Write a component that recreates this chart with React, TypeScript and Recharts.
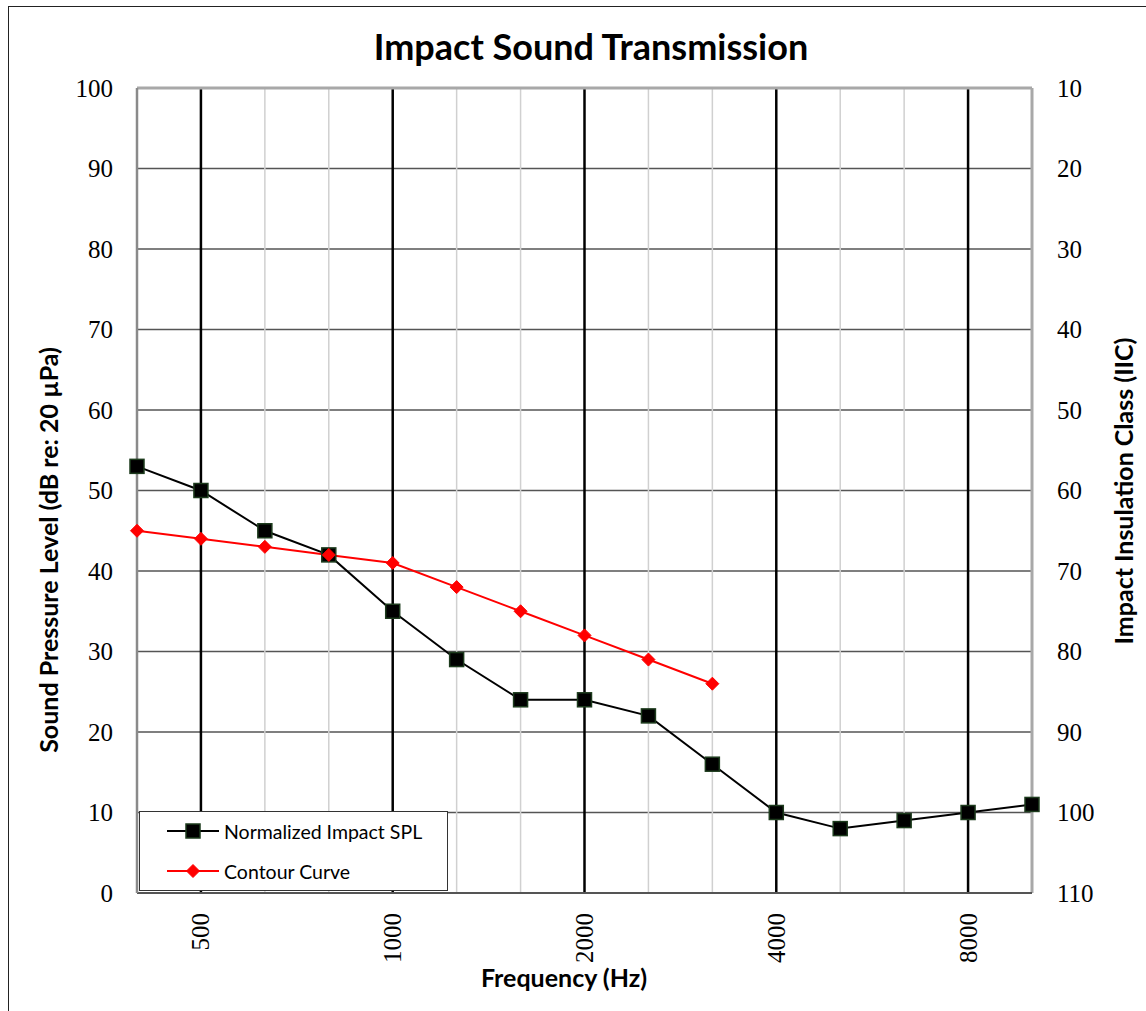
import React from "react";
import {
  ComposedChart,
  Line,
  XAxis,
  YAxis,
  CartesianGrid,
  ReferenceLine,
  Label,
} from "recharts";

const freqs = [400, 500, 630, 800, 1000, 1250, 1600, 2000, 2500, 3150, 4000, 5000, 6300, 8000, 10000];
const splValues = [53, 50, 45, 42, 35, 29, 24, 24, 22, 16, 10, 8, 9, 10, 11];
const contourValues = [45, 44, 43, 42, 41, 38, 35, 32, 29, 26];
const majorFreqs = [500, 1000, 2000, 4000, 8000];
const leftTicks = [0, 10, 20, 30, 40, 50, 60, 70, 80, 90, 100];
const rightTicks = [10, 20, 30, 40, 50, 60, 70, 80, 90, 100, 110];

const data = freqs.map((f, i) => ({
  idx: i,
  freq: f,
  spl: splValues[i],
  contour: i < contourValues.length ? contourValues[i] : null,
}));

const SANS = "Lato, 'Open Sans', sans-serif";
const SERIF = "'Liberation Serif', 'DejaVu Serif', serif";

function SquareDot(props: any) {
  const { cx, cy } = props;
  if (cx == null || cy == null) return null;
  return <rect x={cx - 7} y={cy - 7} width={14} height={14} fill="#000" stroke="#1d3b1d" strokeWidth={1.5} />;
}

function DiamondDot(props: any) {
  const { cx, cy } = props;
  if (cx == null || cy == null) return null;
  const r = 6.5;
  return <polygon points={`${cx},${cy - r} ${cx + r},${cy} ${cx},${cy + r} ${cx - r},${cy}`} fill="#ff0000" stroke="#ff0000" strokeWidth={1} />;
}

function XTick(props: any) {
  const { x, y, payload } = props;
  const ty = y + 12;
  return (
    <text x={x} y={ty} transform={`rotate(-90, ${x}, ${ty})`} textAnchor="end" dominantBaseline="central" fontFamily={SERIF} fontSize={25} fill="#000">
      {freqs[payload.value]}
    </text>
  );
}

export default function App() {
  return (
    <div style={{ position: "absolute", left: 0, top: 0, width: 1146, height: 1011, background: "#fff", overflow: "hidden" }}>
      <div style={{ position: "absolute", left: 8, top: 6, width: 1140, height: 1010, borderLeft: "1.5px solid #222", borderTop: "1.5px solid #222" }} />
      <div style={{ position: "absolute", left: 291, width: 600, top: 26, lineHeight: "40px", textAlign: "center", fontFamily: SANS, fontWeight: 700, fontSize: 36, color: "#000" }}>
        Impact Sound Transmission
      </div>
      <div style={{ position: "absolute", left: 0, top: 0 }}>
        <ComposedChart width={1146} height={1011} data={data} margin={{ top: 88, right: 0, bottom: 0, left: 0 }}>
          <CartesianGrid vertical={false} stroke="#555" strokeWidth={1.3} yAxisId="left" />
          {freqs.map((f, i) =>
            majorFreqs.includes(f) ? null : (
              <ReferenceLine key={`m${i}`} x={i} yAxisId="left" stroke="#d0d0d0" strokeWidth={1.5} />
            )
          )}
          {freqs.map((f, i) =>
            majorFreqs.includes(f) ? (
              <ReferenceLine key={`M${i}`} x={i} yAxisId="left" stroke="#000" strokeWidth={2.5} />
            ) : null
          )}
          <ReferenceLine y={100} yAxisId="left" stroke="#a8a8a8" strokeWidth={3} />
          <ReferenceLine x={freqs.length - 1} yAxisId="left" stroke="#a8a8a8" strokeWidth={3} />
          <XAxis
            dataKey="idx"
            type="number"
            domain={[0, freqs.length - 1]}
            ticks={majorFreqs.map((f) => freqs.indexOf(f))}
            tick={<XTick />}
            tickLine={false}
            axisLine={{ stroke: "#555", strokeWidth: 2 }}
            height={118}
            interval={0}
          >
            <Label
              content={() => (
                <text x={564} y={987} textAnchor="middle" fontFamily={SANS} fontWeight={700} fontSize={25} fill="#000">
                  Frequency (Hz)
                </text>
              )}
            />
          </XAxis>
          <YAxis
            yAxisId="left"
            orientation="left"
            width={137}
            domain={[0, 100]}
            ticks={leftTicks}
            interval={0}
            tickLine={false}
            tickSize={0}
            tickMargin={24}
            axisLine={{ stroke: "#8a8a8a", strokeWidth: 2.5 }}
            tick={{ fill: "#000", fontSize: 25, fontFamily: SERIF }}
          >
            <Label
              content={() => (
                <text x={48} y={550} transform="rotate(-90, 48, 550)" textAnchor="middle" dominantBaseline="central" fontFamily={SANS} fontWeight={700} fontSize={25} fill="#000">
                  Sound Pressure Level (dB re: 20 µPa)
                </text>
              )}
            />
          </YAxis>
          <YAxis
            yAxisId="right"
            orientation="right"
            width={114}
            domain={[10, 110]}
            allowDataOverflow
            reversed
            ticks={rightTicks}
            interval={0}
            tickLine={false}
            tickSize={0}
            tickMargin={25}
            axisLine={false}
            tick={{ fill: "#000", fontSize: 25, fontFamily: SERIF, textAnchor: "start" }}
          >
            <Label
              content={() => (
                <text x={1123} y={491} transform="rotate(-90, 1123, 491)" textAnchor="middle" dominantBaseline="central" fontFamily={SANS} fontWeight={700} fontSize={25} fill="#000">
                  Impact Insulation Class (IIC)
                </text>
              )}
            />
          </YAxis>
          {/* invisible series so the IIC axis gets built */}
          <Line
            yAxisId="right"
            dataKey="spl"
            stroke="none"
            dot={false}
            activeDot={false}
            legendType="none"
            isAnimationActive={false}
          />
          <Line
            yAxisId="left"
            dataKey="spl"
            name="Normalized Impact SPL"
            stroke="#000"
            strokeWidth={2}
            dot={(p: any) => <SquareDot key={`s${p.index}`} {...p} />}
            activeDot={false}
            isAnimationActive={false}
          />
          <Line
            yAxisId="left"
            dataKey="contour"
            name="Contour Curve"
            stroke="#ff0000"
            strokeWidth={2}
            dot={(p: any) => <DiamondDot key={`d${p.index}`} {...p} />}
            activeDot={false}
            connectNulls={false}
            isAnimationActive={false}
          />
        </ComposedChart>
      </div>
      <div
        style={{
          position: "absolute",
          left: 139,
          top: 811,
          width: 307,
          height: 78,
          border: "1.5px solid #333",
          background: "#fff",
          fontFamily: SANS,
          fontSize: 19.5,
          color: "#000",
        }}
      >
        {[
          { label: "Normalized Impact SPL", color: "#000", shape: "square" },
          { label: "Contour Curve", color: "#ff0000", shape: "diamond" },
        ].map((it, k) => (
          <div key={k} style={{ position: "absolute", left: 26, top: 7 + k * 40, height: 24, display: "flex", alignItems: "center" }}>
            <svg width={54} height={24} style={{ display: "block" }}>
              <line x1={1} y1={12} x2={53} y2={12} stroke={it.color} strokeWidth={2} />
              {it.shape === "square" ? <SquareDot cx={27} cy={12} /> : <DiamondDot cx={27} cy={12} />}
            </svg>
            <span style={{ marginLeft: 4, whiteSpace: "nowrap" }}>{it.label}</span>
          </div>
        ))}
      </div>
    </div>
  );
}
